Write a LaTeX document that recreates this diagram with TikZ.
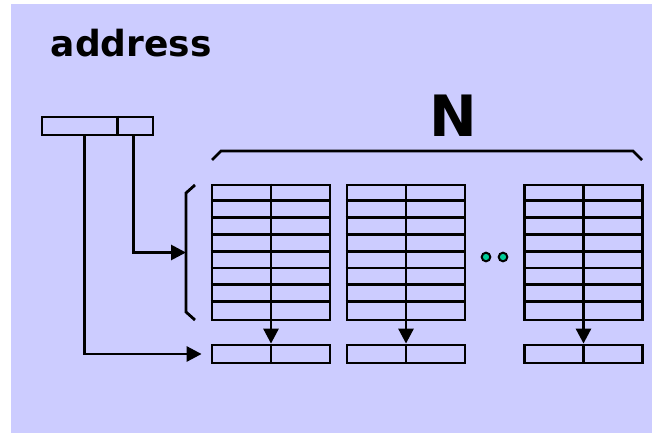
\documentclass[tikz,border=0pt]{standalone}
\usepackage{fontspec}
\setmainfont{DejaVu Sans}
\usetikzlibrary{arrows.meta,positioning}
\definecolor{SlideLavender}{RGB}{204,204,255}
\definecolor{DotGreen}{RGB}{0,204,153}

\begin{document}
\begin{tikzpicture}[x=1pt,y=-1pt,>={Triangle[length=15pt,width=15pt]},line width=2.8pt,
    tbl/.style={draw,inner sep=0pt,minimum width=118pt,minimum height=135pt},
    cell/.style={draw,inner sep=0pt,minimum width=118pt,minimum height=18pt}]
        \useasboundingbox (0,0) rectangle (652,433);
        \fill[SlideLavender] (11,4) rectangle (652,433);
        \node[anchor=base west,font=\bfseries\fontsize{36}{40}\selectfont] (addrlab) at (46,57) {address};
        \node[anchor=base,font=\bfseries\fontsize{57}{60}\selectfont] (nlab) at (453,136) {N};
        \node[cell,minimum width=111pt] (addr) at (97.5,126) {};
        \draw (addr.north west) ++(77,0) -- ++(0,18);
        \foreach \c/\xm in {1/271,2/406,3/583.5}{
          \node[tbl] (t\c) at (\xm,252.5) {};
          \foreach \k in {1,...,7}{\draw (t\c.north west) ++(0,\k*16.875) -- ++(118,0);}
          \draw (t\c.north) -- (t\c.south);
          \node[cell] (r\c) at (\xm,354) {};
          \draw (r\c.north) -- (r\c.south);
          \draw[->] (t\c.south) -- (r\c.north);
        }
        \draw (212,160) -- (221,151) -- (633,151) -- (642,160);
        \draw (195,185) -- (186,193) -- (186,312) -- (195,320);
        \coordinate (lb) at (186,252.5);
        \draw[->] ([xshift=93pt]addr.south west) |- (lb);
        \draw[->] ([xshift=44pt]addr.south west) |- ([xshift=-9pt]r1.west);
        \foreach \x in {486,503}{\filldraw[fill=DotGreen,line width=2pt] (\x,257) circle[radius=4.3pt];}
      \end{tikzpicture}
\end{document}
